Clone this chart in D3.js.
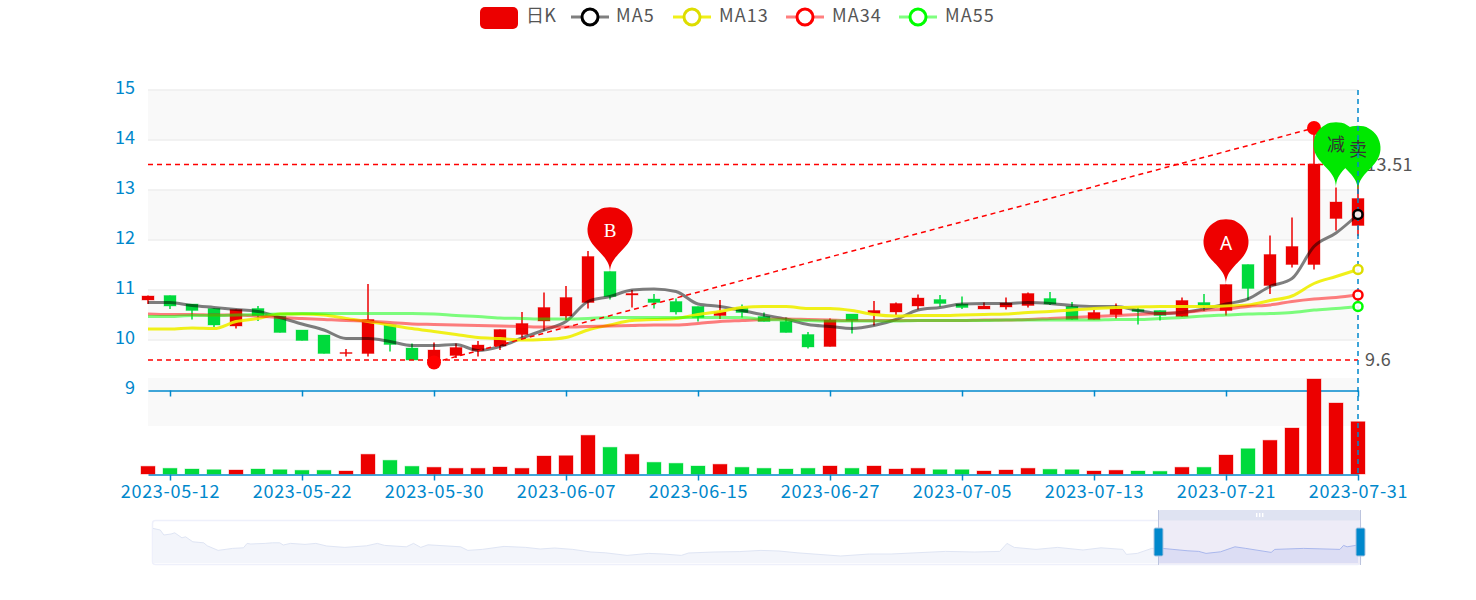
<!DOCTYPE html>
<html><head><meta charset="utf-8">
<script src="https://cdnjs.cloudflare.com/ajax/libs/d3/7.8.5/d3.min.js"></script>
<style>html,body{margin:0;padding:0;background:#fff}svg{display:block}text{font-family:"Noto Sans CJK SC","Noto Sans",sans-serif}</style>
</head><body><svg id="c" width="1476" height="600"></svg>
<script>
const dates=["2023-05-11","2023-05-12","2023-05-15","2023-05-16","2023-05-17","2023-05-18","2023-05-19","2023-05-22","2023-05-23","2023-05-24","2023-05-25","2023-05-26","2023-05-29","2023-05-30","2023-05-31","2023-06-01","2023-06-02","2023-06-05","2023-06-06","2023-06-07","2023-06-08","2023-06-09","2023-06-12","2023-06-13","2023-06-14","2023-06-15","2023-06-16","2023-06-19","2023-06-20","2023-06-21","2023-06-26","2023-06-27","2023-06-28","2023-06-29","2023-06-30","2023-07-03","2023-07-04","2023-07-05","2023-07-06","2023-07-07","2023-07-10","2023-07-11","2023-07-12","2023-07-13","2023-07-14","2023-07-17","2023-07-18","2023-07-19","2023-07-20","2023-07-21","2023-07-24","2023-07-25","2023-07-26","2023-07-27","2023-07-28","2023-07-31"];
const tickDates=["2023-05-12","2023-05-22","2023-05-30","2023-06-07","2023-06-15","2023-06-27","2023-07-05","2023-07-13","2023-07-21","2023-07-31"];
const priceTicks=[9,10,11,12,13,14,15];
const opens=[10.80,10.89,10.72,10.63,10.28,10.63,10.48,10.20,10.10,9.73,9.73,10.30,9.84,9.60,9.69,9.79,9.88,10.11,10.38,10.48,10.75,11.37,10.90,10.82,10.77,10.67,10.49,10.65,10.47,10.37,10.11,9.87,10.52,10.53,10.56,10.68,10.81,10.72,10.62,10.66,10.69,10.83,10.67,10.41,10.51,10.61,10.59,10.47,10.75,10.59,11.51,11.09,11.51,11.51,12.43,12.29];
const closes=[10.88,10.68,10.59,10.30,10.61,10.49,10.15,9.99,9.73,9.75,10.41,9.91,9.60,9.80,9.85,9.90,10.21,10.33,10.65,10.85,11.67,10.87,10.93,10.75,10.56,10.45,10.56,10.55,10.37,10.15,9.86,10.40,10.39,10.59,10.73,10.84,10.73,10.65,10.68,10.74,10.93,10.72,10.41,10.55,10.63,10.57,10.49,10.79,10.69,11.11,11.03,11.71,11.87,13.52,12.76,12.83];
const highs=[10.89,10.89,10.72,10.63,10.61,10.68,10.48,10.20,10.10,9.82,11.12,10.30,9.93,9.95,9.93,9.98,10.21,10.56,10.95,11.08,11.78,11.37,11.00,10.92,10.83,10.67,10.80,10.71,10.55,10.45,10.16,10.43,10.52,10.78,10.75,10.91,10.90,10.87,10.75,10.85,10.95,10.96,10.76,10.60,10.73,10.65,10.59,10.85,10.92,11.11,11.51,12.09,12.45,14.25,13.05,13.20];
const lows=[10.72,10.62,10.41,10.26,10.23,10.38,10.15,9.99,9.73,9.67,9.67,9.77,9.60,9.58,9.64,9.67,9.80,10.05,10.19,10.40,10.63,10.81,10.65,10.63,10.51,10.37,10.42,10.45,10.37,10.15,9.83,9.87,10.13,10.29,10.50,10.61,10.67,10.62,10.62,10.61,10.65,10.70,10.40,10.41,10.43,10.31,10.39,10.46,10.58,10.49,10.80,10.92,11.45,11.41,12.19,12.08];
const ma5=[10.75,10.75,10.69,10.65,10.61,10.57,10.45,10.32,10.20,10.03,10.03,9.97,9.89,9.89,9.91,9.79,9.87,10.04,10.20,10.37,10.77,10.87,11.00,11.02,10.97,10.72,10.67,10.59,10.50,10.42,10.31,10.27,10.23,10.29,10.41,10.60,10.65,10.72,10.73,10.73,10.75,10.73,10.69,10.67,10.67,10.59,10.53,10.55,10.62,10.72,10.82,11.07,11.23,11.87,12.14,12.51];
const ma13=[10.22,10.22,10.24,10.23,10.37,10.43,10.52,10.52,10.50,10.43,10.37,10.30,10.23,10.17,10.11,10.05,10.03,10.00,10.01,10.05,10.20,10.30,10.39,10.41,10.43,10.51,10.57,10.65,10.67,10.67,10.63,10.63,10.59,10.51,10.48,10.49,10.49,10.50,10.51,10.52,10.55,10.57,10.60,10.63,10.65,10.66,10.67,10.67,10.67,10.68,10.70,10.79,10.88,11.13,11.27,11.41];
const ma34=[10.52,10.51,10.51,10.50,10.50,10.48,10.45,10.43,10.41,10.39,10.38,10.35,10.32,10.31,10.30,10.29,10.28,10.27,10.26,10.26,10.27,10.28,10.29,10.30,10.30,10.33,10.37,10.39,10.41,10.42,10.41,10.40,10.39,10.39,10.39,10.39,10.39,10.39,10.40,10.40,10.41,10.43,10.45,10.47,10.49,10.51,10.53,10.55,10.59,10.62,10.67,10.70,10.77,10.82,10.85,10.90];
const ma55=[10.47,10.47,10.49,10.49,10.50,10.51,10.52,10.53,10.53,10.53,10.53,10.53,10.53,10.52,10.49,10.47,10.44,10.43,10.42,10.42,10.43,10.45,10.45,10.45,10.45,10.45,10.45,10.45,10.41,10.40,10.39,10.38,10.38,10.38,10.38,10.39,10.39,10.39,10.39,10.40,10.40,10.40,10.40,10.40,10.41,10.41,10.43,10.45,10.48,10.50,10.52,10.53,10.55,10.60,10.63,10.67];
const volumes=[7.7,5.7,5,4.3,4,5,4.3,3.7,3.7,3,19.7,13.7,7.7,6.7,5.7,5.7,7,5.7,18,18.3,38.7,26.7,19.7,11.7,10.7,8,9.7,6.7,5.7,5,5.7,8,5.7,8,5,5.7,4.3,4.3,3,4,5.7,4.7,4.3,3,3.7,3,2.7,6.7,6.7,19,25.3,33.7,46,95,71,52.3];
const overviewDay=[0,2,3,5,6,8,9,11,14,15,18,22,25,26,27,31,33,35,36,38,42,45,48,53,59,62,64,70,72,74,76,85,87,91,97,103,107,111,116,121,125,131,137,141,146,148,155,162,168,173,178,190,198,204,219,227,234,236,238,244,250,257,262,268,269,272,276,279,286,289,291,295,299,302,309,310,318,328,329,330,333];
const overviewValue=[17.8,17,14.5,15,15.6,13.1,13.6,11.1,10.6,9.1,6.8,7.8,8.1,10.3,10,10.3,10.6,10.6,9.5,10.3,9.8,10.3,9,8.3,9.1,10.3,9.3,8.6,10.3,8.3,9.6,8.6,6.8,7.3,8.8,8.3,7.5,8,7.3,6,5.6,4.3,5.3,5,4.3,5.5,6,6.2,6.8,6.5,5.6,4,5,5,6.3,6,6.3,10.3,8.3,7.3,8.3,7,8.1,7.3,4.8,5.3,7.8,7.8,6.6,6.3,5.3,6.1,8.6,7.8,5.8,7.3,7.8,7.3,9.3,8.6,9.5];
const legendNames=["日K","MA5","MA13","MA34","MA55"];
const maSeries=[ma5,ma13,ma34,ma55];
const maColors=["#000000","#eeee00","#ff0000","#00ff00"];
const maSymbolColors=["#000000","#dddd00","#ff0000","#00ff00"];
const maOpacity=[0.5,0.9,0.5,0.5];
const hLines=[13.51,9.6];
const trendIdx=[13,53], trendVal=[9.55,14.24];
const pinIdx=[55,54,49,21], pinVal=[12.98,13.05,11.11,11.35], pinText=["卖","减","A","B"], pinTextVal=[13.8,13.9,11.94,12.2];
const RED="#ec0000",GREEN="#00da3c",BLUE="#0088cc";

const svg=d3.select("#c");
const x=d3.scalePoint().domain(dates).range([148,1358]);
const y=d3.scaleLinear().domain([9,15]).range([390,90]);
const v=d3.scaleLinear().domain([0,96]).range([474,378]);
const ovX=d3.scaleLinear().domain([0,333]).range([153,1358]);
const ovY=d3.scaleLinear().domain([0,22]).range([564,520]);

// split areas and grid
[[15,14],[13,12],[11,10]].forEach(b=>svg.append("rect").attr("x",148).attr("width",1210).attr("y",y(b[0])).attr("height",y(b[1])-y(b[0])).attr("fill","#f9f9f9"));
svg.append("rect").attr("x",148).attr("width",1210).attr("y",v(96)).attr("height",v(48)-v(96)).attr("fill","#f9f9f9");
svg.selectAll(".g").data(priceTicks.slice(1)).join("line").attr("x1",148).attr("x2",1358).attr("y1",d=>y(d)).attr("y2",d=>y(d)).attr("stroke","#eeeeee").attr("stroke-width",1.5);

// axes
function styleAxis(g){g.selectAll(".domain").attr("stroke",BLUE).attr("stroke-width",1.5);g.selectAll(".tick line").attr("stroke",BLUE).attr("stroke-width",1.5);}
svg.append("g").attr("transform","translate(0,390.5)").call(d3.axisBottom(x).tickValues(tickDates).tickSize(6).tickSizeOuter(0).tickFormat("")).call(styleAxis);
svg.append("g").attr("transform","translate(0,474.5)").call(d3.axisBottom(x).tickValues(tickDates).tickSize(6).tickSizeOuter(0)).call(styleAxis)
  .call(g=>g.selectAll(".tick text").attr("y",11).attr("fill",BLUE).style("font-size","18px").style("letter-spacing","0.7px").style("font-family",'"Noto Sans CJK SC"'));
svg.append("g").attr("transform","translate(135,0)").call(d3.axisLeft(y).tickValues(priceTicks).tickSize(0).tickPadding(0).tickFormat(d3.format("d"))).call(g=>g.select(".domain").remove())
  .call(g=>g.selectAll(".tick text").attr("dy","0.32em").attr("y",-2).attr("fill",BLUE).style("font-size","18px").style("font-family",'"Noto Sans CJK SC"'));

// volume
const col=i=>closes[i]>=opens[i]?RED:GREEN;
svg.append("g").selectAll("rect").data(volumes).join("rect")
 .attr("x",(d,i)=>x(dates[i])-7).attr("width",14).attr("y",d=>v(d)).attr("height",d=>v(0)-v(d))
 .attr("fill",(d,i)=>col(i)).attr("stroke",(d,i)=>col(i)).attr("stroke-opacity",0.35).attr("stroke-width",1);

// candles
const cg=svg.append("g");
cg.selectAll("line").data(dates).join("line").attr("x1",d=>x(d)).attr("x2",d=>x(d))
 .attr("y1",(d,i)=>y(highs[i])).attr("y2",(d,i)=>y(lows[i])).attr("stroke",(d,i)=>col(i)).attr("stroke-width",1.5);
cg.selectAll("rect").data(dates).join("rect").attr("x",d=>x(d)-6).attr("width",12)
 .attr("y",(d,i)=>y(Math.max(opens[i],closes[i]))).attr("height",(d,i)=>Math.max(1,Math.abs(y(opens[i])-y(closes[i]))))
 .attr("fill",(d,i)=>col(i)).attr("stroke",(d,i)=>col(i)).attr("stroke-opacity",0.35).attr("stroke-width",1);

// MA lines
const line=d3.line().x((d,i)=>x(dates[i])).y(d=>y(d)).curve(d3.curveMonotoneX);
maSeries.forEach((s,k)=>svg.append("path").datum(s).attr("d",line).attr("fill","none").attr("stroke",maColors[k]).attr("stroke-opacity",maOpacity[k]).attr("stroke-width",3));

// mark lines
const dash="5,4";
hLines.forEach(h=>{
 svg.append("line").attr("x1",148).attr("x2",1358).attr("y1",y(h)).attr("y2",y(h)).attr("stroke","#ff0000").attr("stroke-width",1.5).attr("stroke-dasharray",dash);
 svg.append("text").attr("x",h>10?1366:1365).attr("y",y(h)).attr("dy","0.35em").attr("fill","#555").style("font-size","18px").style("letter-spacing","0.4px").text(h);
});
svg.append("line").attr("x1",x(dates[trendIdx[0]])).attr("y1",y(trendVal[0])).attr("x2",x(dates[trendIdx[1]])).attr("y2",y(trendVal[1])).attr("stroke","#ff0000").attr("stroke-width",1.5).attr("stroke-dasharray",dash);
trendIdx.forEach((t,i)=>svg.append("circle").attr("cx",x(dates[t])).attr("cy",y(trendVal[i])).attr("r",7).attr("fill","#ff0000"));

// pins
function pinPath(cx,tip,size){
 const w=size/5*3,h=Math.max(w,size),r=w/2,dy=r*r/(h-r),cy=tip-h+r+dy,ang=Math.asin(dy/r),dx=Math.cos(ang)*r,tx=Math.sin(ang),ty=Math.cos(ang),c1=r*.6,c2=r*.7;
 const p=d3.path();p.moveTo(cx-dx,cy+dy);p.arc(cx,cy,r,Math.PI-ang,Math.PI*2+ang);
 p.bezierCurveTo(cx+dx-tx*c1,cy+dy+ty*c1,cx,tip-c2,cx,tip);
 p.bezierCurveTo(cx,tip-c2,cx-dx+tx*c1,cy+dy+ty*c1,cx-dx,cy+dy);p.closePath();
 return p.toString();
}
const isUp=i=>i>1;
pinIdx.forEach((t,i)=>{
 svg.append("path").attr("d",pinPath(x(dates[t]),y(pinVal[i]),75)).attr("fill",isUp(i)?"#ee0000":"#00e800");
});
pinIdx.forEach((t,i)=>{
 svg.append("text").attr("x",x(dates[t])).attr("y",y(pinTextVal[i])).attr("dy","0.35em").attr("text-anchor","middle").attr("fill",isUp(i)?"#fff":"#333")
  .style("font-size",isUp(i)?"19px":"18px").style("font-family",pinText[i]=="B"?'"Liberation Serif"':pinText[i]=="A"?'"Noto Sans"':'"Noto Sans CJK SC"').text(pinText[i]);
});

// cursor and end rings
svg.append("line").attr("x1",1358).attr("x2",1358).attr("y1",90).attr("y2",474).attr("stroke",BLUE).attr("stroke-width",1.5).attr("stroke-dasharray","5,4");
maSeries.forEach((s,k)=>svg.append("circle").attr("cx",1358).attr("cy",y(s[55])).attr("r",4.5).attr("fill","#fff").attr("fill-opacity",.9).attr("stroke",maSymbolColors[k]).attr("stroke-width",2.5));

// legend
const lg=svg.append("g");
lg.append("rect").attr("x",480).attr("y",7).attr("width",38).attr("height",22).attr("rx",5).attr("fill",RED);
const lgText=[526,616,719,832,945], lgCx=[0,590,692,805,918];
legendNames.forEach((n,i)=>{
 lg.append("text").attr("x",lgText[i]).attr("y",16).attr("dy","0.35em").attr("fill","#555").style("font-size","18px").style("letter-spacing",i?"1.1px":"0.2px").text(n);
 if(i){
  lg.append("line").attr("x1",lgCx[i]-19).attr("x2",lgCx[i]+19).attr("y1",17).attr("y2",17).attr("stroke",maColors[i-1]).attr("stroke-opacity",maOpacity[i-1]).attr("stroke-width",3);
  lg.append("circle").attr("cx",lgCx[i]).attr("cy",17).attr("r",8).attr("fill","#fff").attr("stroke",maSymbolColors[i-1]).attr("stroke-width",3);
 }
});

// data zoom
const z=svg.append("g");
z.append("rect").attr("x",152.5).attr("y",520.5).attr("width",1208).attr("height",44).attr("rx",3).attr("fill","#fff").attr("stroke","#eef0fb").attr("stroke-width",1.5);
const ovPts=overviewDay.map((d,i)=>[d,overviewValue[i]]);
const ovLine=d3.line().x(d=>ovX(d[0])).y(d=>ovY(d[1]));
const ovArea=d3.area().x(d=>ovX(d[0])).y0(563).y1(d=>ovY(d[1]));
z.append("path").datum(ovPts).attr("d",ovArea).attr("fill","#f3f5fb");
z.append("path").datum(ovPts).attr("d",ovLine).attr("fill","none").attr("stroke","#dfe5f4").attr("stroke-width",1);
const sel0=1158.5,sel1=1360.5;
z.append("clipPath").attr("id","sel").append("rect").attr("x",sel0).attr("y",510).attr("width",sel1-sel0).attr("height",55);
z.append("g").attr("clip-path","url(#sel)").call(g=>{
 g.append("rect").attr("x",sel0).attr("y",520).attr("width",sel1-sel0).attr("height",44).attr("fill","#eeecf7");
 g.append("path").datum(ovPts).attr("d",ovArea).attr("fill","#dcddf4");
 g.append("path").datum(ovPts).attr("d",ovLine).attr("fill","none").attr("stroke","#a9b7ec").attr("stroke-width",1);
});
z.append("rect").attr("x",sel0).attr("y",510).attr("width",sel1-sel0).attr("height",10.5).attr("rx",2).attr("fill","#dfe3f2");
[1256,1259,1262].forEach(px=>z.append("rect").attr("x",px).attr("y",513).attr("width",1.4).attr("height",4).attr("fill","#fff"));
[sel0,sel1].forEach(px=>{
 z.append("line").attr("x1",px).attr("x2",px).attr("y1",510).attr("y2",565).attr("stroke","#bcc4de").attr("stroke-width",1);
 z.append("rect").attr("x",px-4.5).attr("y",528).attr("width",9).attr("height",28).attr("rx",1.5).attr("fill",BLUE).attr("stroke","#a9c3e0").attr("stroke-width",1);
});
</script></body></html>
